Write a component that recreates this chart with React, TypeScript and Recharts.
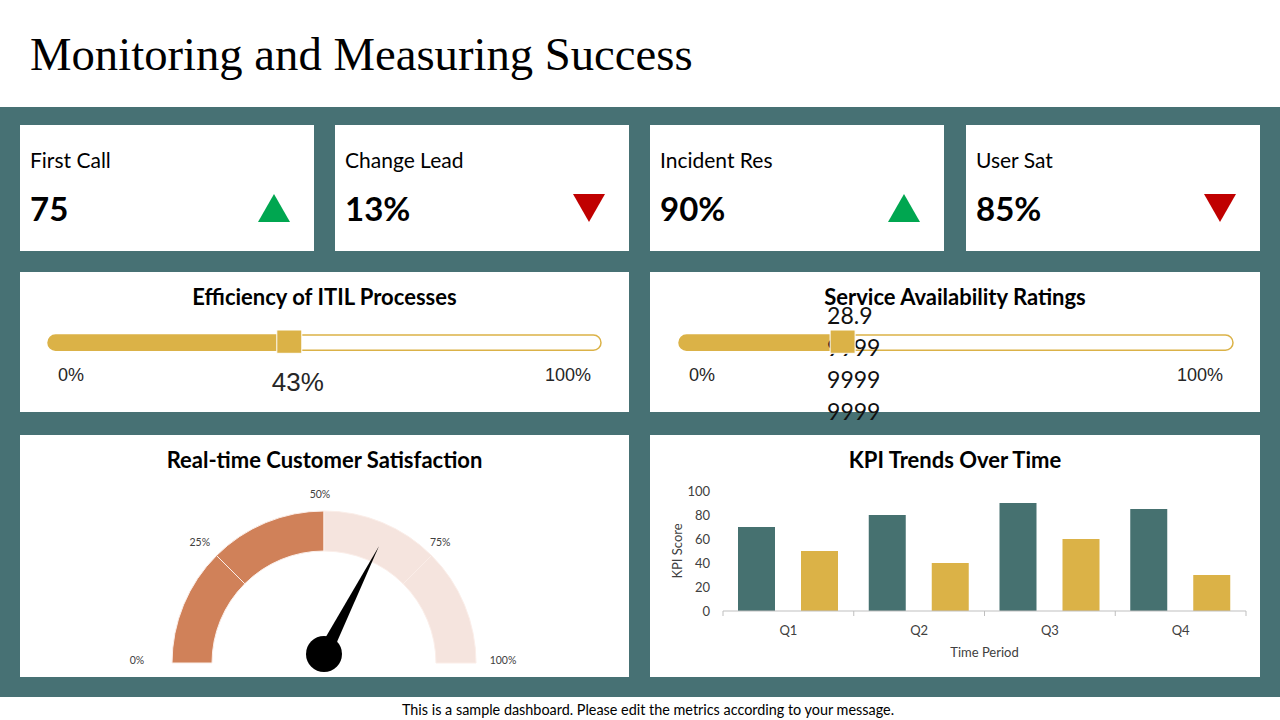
import React from "react";
import { BarChart, Bar, XAxis, YAxis, PieChart, Pie, Cell } from "recharts";

const kpiNames = ["First Call", "Change Lead", "Incident Res", "User Sat"];
const kpiValues = ["75", "13%", "90%", "85%"];
const kpiTrend = ["up", "down", "up", "down"];

const itilEfficiency = [{ name: "Efficiency", value: 43 }];
const itilLabel = ["43%"];
const availability = [{ name: "Availability", value: 28.9 }];
const availabilityLabel = ["28.9", "9999", "9999", "9999"];
const sliderTicks = [0, 100];

const gaugeBands = [25, 25, 25, 25];
const gaugeFilled = 50;
const gaugeTicks = ["0%", "25%", "50%", "75%", "100%"];
const needleValue = 65;

const quarters = ["Q1", "Q2", "Q3", "Q4"];
const kpiSeriesA = [70, 80, 90, 85];
const kpiSeriesB = [50, 40, 60, 30];
const yTicks = [0, 20, 40, 60, 80, 100];

const TEAL = "#477174";
const BAR_TEAL = "#467170";
const GOLD = "#DBB247";
const DARK = "#D08159";
const LIGHT = "#F5E4DE";
const RAD = Math.PI / 180;

const trendData = quarters.map((q, i) => ({ q, a: kpiSeriesA[i], b: kpiSeriesB[i] }));

let acc = 0;
const gaugeData = gaugeBands.map((v) => {
  const start = acc;
  acc += v;
  return { value: v, filled: start < gaugeFilled };
});
const needleData = [{ value: needleValue }, { value: 100 - needleValue }];

function Triangle({ dir }: { dir: string }) {
  return (
    <svg width={32} height={28} style={{ display: "block" }}>
      {dir === "up" ? (
        <polygon points="16,0 32,28 0,28" fill="#00A650" />
      ) : (
        <polygon points="0,0 32,0 16,28" fill="#C00000" />
      )}
    </svg>
  );
}

function Card({ left, top, width, height, children }: any) {
  return (
    <div style={{ position: "absolute", left, top, width, height, background: "#fff" }}>{children}</div>
  );
}

function CardTitle({ text }: { text: string }) {
  return (
    <div style={{ position: "absolute", left: 0, right: 0, top: 12, textAlign: "center", fontWeight: 700, fontSize: 22, lineHeight: "26px", color: "#000" }}>
      {text}
    </div>
  );
}

function Slider({ data, lines, mode, width, left, right }: any) {
  const shape = (p: any) => {
    const { x, y, width: w, height: h } = p;
    const r = h / 2;
    const end = x + w;
    return (
      <g>
        <path d={`M${x + r},${y} H${end} V${y + h} H${x + r} A${r},${r} 0 0 1 ${x + r},${y} Z`} fill={GOLD} />
        {mode === "below" ? (
          <text x={end + 12} y={y + 56} textAnchor="middle" fontFamily="'Liberation Sans', Arial" fontSize={26} fill="#262626">
            {lines[0]}
          </text>
        ) : (
          <text fontFamily="Lato" fontSize={23} fill="#111">
            {lines.map((l: string, i: number) => (
              <tspan key={i} x={end - 12} y={y - 11 + 32 * i}>{l}</tspan>
            ))}
          </text>
        )}
        <rect x={end - 9} y={y - 5} width={25} height={h + 8} fill={GOLD} stroke="#fff" strokeWidth={1} />
      </g>
    );
  };
  const tick = (p: any) => {
    const v = p.payload.value;
    const isStart = v === sliderTicks[0];
    return (
      <text x={isStart ? p.x + 10 : p.x - 10} y={p.y + 30} textAnchor={isStart ? "start" : "end"} fontFamily="'Liberation Sans', Arial" fontSize={18} fill="#262626">
        {v}%
      </text>
    );
  };
  return (
    <BarChart layout="vertical" width={width} height={160} data={data} margin={{ top: 62, right, bottom: 51, left }} barCategoryGap={0} style={{ position: "absolute", left: 0, top: 0 }}>
      <XAxis type="number" domain={[0, 100]} ticks={sliderTicks} axisLine={false} tickLine={false} tickSize={0} tickMargin={0} height={30} tick={tick} interval={0} />
      <YAxis type="category" dataKey="name" hide />
      <Bar dataKey="value" barSize={17} isAnimationActive={false} background={{ fill: "#fff", stroke: GOLD, strokeWidth: 1.5, radius: 8.5 } as any} shape={shape} />
    </BarChart>
  );
}

function Gauge() {
  const tickLabel = (p: any) => {
    const span = p.percent * 180;
    const start = p.midAngle + span / 2;
    const items = [{ a: start, t: gaugeTicks[p.index] }];
    if (p.index === gaugeData.length - 1) items.push({ a: start - span, t: gaugeTicks[p.index + 1] });
    return (
      <g>
        {items.map((it, i) => {
          const c = Math.cos(it.a * RAD);
          const s = Math.sin(it.a * RAD);
          const rx = p.outerRadius + 5 + 26 * c * c;
          const ry = p.outerRadius + 17;
          return (
            <text key={i} x={p.cx - 4 + rx * c} y={p.cy - 3 * c * c - ry * s} textAnchor="middle" dominantBaseline="central" fontFamily="Lato" fontSize={10.5} fill="#404040">
              {it.t}
            </text>
          );
        })}
      </g>
    );
  };
  const needle = (p: any) => {
    if (p.index !== 0) return null;
    const deg = typeof p.endAngle === "number" ? p.endAngle : 180 - p.percent * 180;
    const a = deg * RAD;
    const px = p.cx;
    const py = p.cy - 9;
    const len = 121;
    const tx = px + len * Math.cos(a);
    const ty = py - len * Math.sin(a);
    const w = 7;
    const bx = Math.sin(a) * w;
    const by = Math.cos(a) * w;
    return (
      <g>
        <polygon points={`${px + bx},${py + by} ${tx},${ty} ${px - bx},${py - by}`} fill="#000" />
        <circle cx={px} cy={py} r={18} fill="#000" />
      </g>
    );
  };
  return (
    <PieChart width={609} height={242} margin={{ top: 0, right: 0, bottom: 0, left: 0 }} style={{ position: "absolute", left: 0, top: 0 }}>
      <Pie data={gaugeData} dataKey="value" cx={304} cy={228} startAngle={180} endAngle={0} innerRadius={112} outerRadius={152} stroke="#FBEEE9" strokeWidth={1} isAnimationActive={false} label={tickLabel} labelLine={false}>
        {gaugeData.map((d, i) => (
          <Cell key={i} fill={d.filled ? DARK : LIGHT} />
        ))}
      </Pie>
      <Pie data={needleData} dataKey="value" cx={304} cy={228} startAngle={180} endAngle={0} innerRadius={0} outerRadius={100} fill="none" stroke="none" isAnimationActive={false} label={needle} labelLine={false} />
    </PieChart>
  );
}

function TrendChart() {
  const qTick = (p: any) => {
    const off = p.payload.offset || 0;
    const axisY = p.y - 15;
    const last = p.index === quarters.length - 1;
    return (
      <g>
        <line x1={p.x - off} x2={p.x - off} y1={axisY} y2={axisY + 5} stroke="#BFBFBF" />
        {last && <line x1={p.x + off} x2={p.x + off} y1={axisY} y2={axisY + 5} stroke="#BFBFBF" />}
        <text x={p.x} y={p.y} dy="0.71em" textAnchor="middle" fontFamily="Lato" fontSize={13} fill="#404040">
          {p.payload.value}
        </text>
      </g>
    );
  };
  return (
    <BarChart width={610} height={242} data={trendData} margin={{ top: 56, right: 14, bottom: 16, left: 18 }} barSize={37} barGap={26} style={{ position: "absolute", left: 0, top: 0 }}>
      <XAxis
        dataKey="q"
        axisLine={{ stroke: "#BFBFBF" }}
        tickLine={false}
        tickSize={0}
        tickMargin={15}
        height={50}
        tick={qTick}
        interval={0}
        label={{
          content: (p: any) => (
            <text x={p.viewBox.x + p.viewBox.width / 2} y={p.viewBox.y + 46} textAnchor="middle" fontFamily="Lato" fontSize={13} fill="#404040">
              Time Period
            </text>
          ),
        } as any}
      />
      <YAxis
        domain={[0, 100]}
        ticks={yTicks}
        width={55}
        axisLine={false}
        tickLine={false}
        tickMargin={7}
        tick={{ fontFamily: "Lato", fontSize: 13, fill: "#404040" }}
        label={{
          content: (p: any) => {
            const x = p.viewBox.x + 14;
            const y = p.viewBox.y + p.viewBox.height / 2;
            return (
              <text x={x} y={y} transform={`rotate(-90, ${x}, ${y})`} textAnchor="middle" fontFamily="Lato" fontSize={13} fill="#404040">
                KPI Score
              </text>
            );
          },
        } as any}
      />
      <Bar dataKey="a" fill={BAR_TEAL} isAnimationActive={false} />
      <Bar dataKey="b" fill={GOLD} isAnimationActive={false} />
    </BarChart>
  );
}

const kpiLefts = [20, 335, 650, 966];

export default function App() {
  return (
    <div style={{ position: "absolute", left: 0, top: 0, width: 1280, height: 720, background: "#fff", fontFamily: "Lato, sans-serif", overflow: "hidden" }}>
      <style>{`.recharts-surface{overflow:visible}`}</style>
      <div style={{ position: "absolute", left: 30, top: 26, fontFamily: "'Liberation Serif', serif", fontSize: 46.7, lineHeight: "56px", color: "#000", whiteSpace: "nowrap" }}>
        Monitoring and Measuring Success
      </div>
      <div style={{ position: "absolute", left: 0, top: 107, width: 1280, height: 590, background: TEAL }} />

      {kpiNames.map((n, i) => (
        <Card key={n} left={kpiLefts[i]} top={125} width={294} height={126}>
          <div style={{ position: "absolute", left: 10, top: 22, fontSize: 21, lineHeight: "25px", color: "#000" }}>{n}</div>
          <div style={{ position: "absolute", left: 10, top: 63, fontSize: 33, lineHeight: "40px", fontWeight: 700, color: "#000" }}>{kpiValues[i]}</div>
          <div style={{ position: "absolute", left: 238, top: 69 }}>
            <Triangle dir={kpiTrend[i]} />
          </div>
        </Card>
      ))}

      <Card left={20} top={272} width={609} height={140}>
        <CardTitle text="Efficiency of ITIL Processes" />
        <Slider data={itilEfficiency} lines={itilLabel} mode="below" width={609} left={28} right={28} />
      </Card>
      <Card left={650} top={272} width={610} height={140}>
        <CardTitle text="Service Availability Ratings" />
        <Slider data={availability} lines={availabilityLabel} mode="stack" width={610} left={29} right={27} />
      </Card>

      <Card left={20} top={435} width={609} height={242}>
        <CardTitle text="Real-time Customer Satisfaction" />
        <Gauge />
      </Card>
      <Card left={650} top={435} width={610} height={242}>
        <CardTitle text="KPI Trends Over Time" />
        <TrendChart />
      </Card>

      <div style={{ position: "absolute", left: 16, width: 1264, top: 701, textAlign: "center", fontSize: 14.4, lineHeight: "18px", color: "#000", whiteSpace: "nowrap" }}>
        This is a sample dashboard. Please edit the metrics according to your message.
      </div>
    </div>
  );
}
